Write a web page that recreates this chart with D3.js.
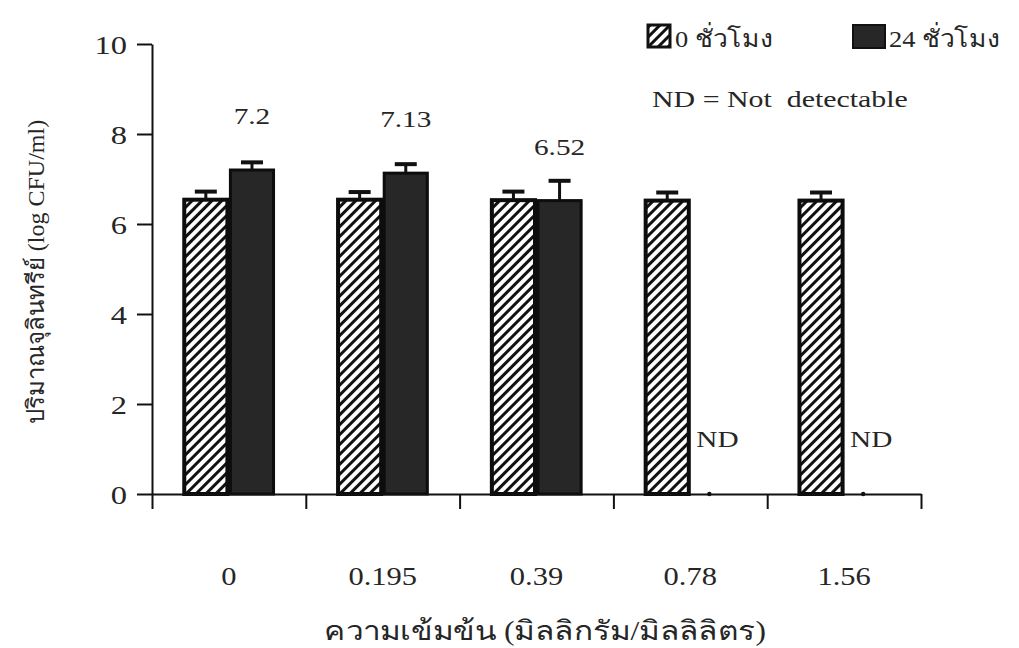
<!DOCTYPE html>
<html>
<head>
<meta charset="utf-8">
<script src="https://cdn.jsdelivr.net/npm/d3@7"></script>
<style>
  html, body { margin: 0; padding: 0; background: #fff; }
  svg { display: block; }
  text { font-family: "Liberation Serif", "DejaVu Serif", "Noto Sans", serif; fill: #262626; }
</style>
</head>
<body>
<svg id="chart" width="1019" height="648"></svg>
<script>
// Concentrations (mg/ml) along the x axis
const concentrations = ["0", "0.195", "0.39", "0.78", "1.56"];
// Series names (incubation time)
const seriesNames = ["0 ชั่วโมง", "24 ชั่วโมง"];
// Mean counts, log CFU/ml (null = not detectable)
const hour0 = [6.54, 6.54, 6.53, 6.52, 6.52];
const hour24 = [7.2, 7.13, 6.52, null, null];
// Standard deviations
const hour0Err = [0.18, 0.17, 0.19, 0.18, 0.18];
const hour24Err = [0.17, 0.2, 0.44, 0, 0];
// Value labels written above the 24 h bars
const hour24Labels = ["7.2", "7.13", "6.52", "ND", "ND"];
const yTicks = [0, 2, 4, 6, 8, 10];

const svg = d3.select("#chart");
const plotLeft = 152, plotRight = 921, plotTop = 44, plotBottom = 494;
const SX = 1.22; // horizontal widening of the serif lettering

function widen(sel, sx) {
  sel.each(function () {
    const t = d3.select(this);
    const x = +t.attr("x") || 0, y = +t.attr("y") || 0;
    t.attr("x", 0).attr("y", 0)
     .attr("transform", `translate(${x},${y}) scale(${sx},1)`);
  });
}

// Hatch pattern for the 0 h bars
const defs = svg.append("defs");
const pat = defs.append("pattern")
  .attr("id", "hatch").attr("patternUnits", "userSpaceOnUse")
  .attr("width", 7).attr("height", 7)
  .attr("patternTransform", "rotate(45)");
pat.append("rect").attr("width", 7).attr("height", 7).attr("fill", "#fff");
pat.append("rect").attr("x", 0).attr("y", 0).attr("width", 3).attr("height", 7).attr("fill", "#111");

const y = d3.scaleLinear().domain([0, 10]).range([plotBottom, plotTop]);
const x0 = d3.scaleBand().domain(concentrations).range([plotLeft, plotRight])
  .paddingInner(0.4).paddingOuter(0.2);
const x1 = d3.scaleBand().domain(seriesNames).range([0, x0.bandwidth()]);
const xEdges = d3.scaleLinear().domain([0, concentrations.length]).range([plotLeft, plotRight]);

const rows = concentrations.map((c, i) => ({
  c,
  bars: [
    { s: seriesNames[0], v: hour0[i], e: hour0Err[i] },
    { s: seriesNames[1], v: hour24[i], e: hour24Err[i] }
  ]
}));

// Bars
const groups = svg.append("g").selectAll("g").data(rows).join("g")
  .attr("transform", d => `translate(${x0(d.c)},0)`);

groups.selectAll("rect").data(d => d.bars.filter(b => b.v != null)).join("rect")
  .attr("x", d => x1(d.s) + 1.5)
  .attr("width", x1.bandwidth() - 3)
  .attr("y", d => y(d.v))
  .attr("height", d => y(0) - y(d.v))
  .attr("fill", d => d.s === seriesNames[0] ? "url(#hatch)" : "#272727")
  .attr("stroke", "#0d0d0d")
  .attr("stroke-width", d => d.s === seriesNames[0] ? 4 : 3);

// Error bars (upper half)
const errs = groups.selectAll("g.err").data(d => d.bars.filter(b => b.v != null)).join("g")
  .attr("class", "err");
errs.append("line")
  .attr("x1", d => x1(d.s) + x1.bandwidth() / 2)
  .attr("x2", d => x1(d.s) + x1.bandwidth() / 2)
  .attr("y1", d => y(d.v)).attr("y2", d => y(d.v + d.e))
  .attr("stroke", "#111").attr("stroke-width", 3);
errs.append("line")
  .attr("x1", d => x1(d.s) + x1.bandwidth() / 2 - 11)
  .attr("x2", d => x1(d.s) + x1.bandwidth() / 2 + 11)
  .attr("y1", d => y(d.v + d.e)).attr("y2", d => y(d.v + d.e))
  .attr("stroke", "#111").attr("stroke-width", 4);

// Not-detectable marks at the baseline
groups.filter((d, i) => hour24[i] == null).append("circle")
  .attr("cx", x1(seriesNames[1]) + x1.bandwidth() / 2 - 4)
  .attr("cy", y(0)).attr("r", 2.2).attr("fill", "#111");

// Value labels
const lbl = svg.append("g").selectAll("text").data(concentrations).join("text")
  .attr("x", (c, i) => hour24[i] == null
    ? x0(c) + x1(seriesNames[1]) + 6
    : x0(c) + x1(seriesNames[1]) + x1.bandwidth() / 2)
  .attr("y", (c, i) => hour24[i] == null ? y(0) - 47 : y(hour24[i]) - 46)
  .attr("text-anchor", (c, i) => hour24[i] == null ? "start" : "middle")
  .attr("font-size", 24)
  .text((c, i) => hour24Labels[i]);
widen(lbl, SX);

// Y axis
const yAxis = svg.append("g").attr("transform", `translate(${plotLeft},0)`)
  .call(d3.axisLeft(y).tickValues(yTicks).tickSize(15).tickSizeOuter(0).tickPadding(10));
yAxis.select(".domain").attr("stroke", "#111").attr("stroke-width", 2);
yAxis.selectAll(".tick line").attr("stroke", "#111").attr("stroke-width", 2);
yAxis.selectAll(".tick text").attr("font-size", 25).attr("fill", "#262626")
  .attr("font-family", "Liberation Serif, serif").attr("dy", "0.36em");
widen(yAxis.selectAll(".tick text"), 1.3);

// X axis with ticks on category edges
const xAxis = svg.append("g").attr("transform", `translate(0,${plotBottom})`)
  .call(d3.axisBottom(xEdges).tickValues(d3.range(concentrations.length + 1))
    .tickFormat("").tickSize(15).tickSizeOuter(0));
xAxis.select(".domain").attr("stroke", "#111").attr("stroke-width", 2);
xAxis.selectAll(".tick line").attr("stroke", "#111").attr("stroke-width", 2);

const xl = svg.append("g").selectAll("text").data(concentrations).join("text")
  .attr("x", c => x0(c) + x0.bandwidth() / 2)
  .attr("y", 585)
  .attr("text-anchor", "middle")
  .attr("font-size", 25)
  .text(c => c);
widen(xl, SX);

// Axis titles
const xt = svg.append("text")
  .attr("x", 545).attr("y", 640)
  .attr("text-anchor", "middle")
  .attr("font-size", 27)
  .text("ความเข้มข้น (มิลลิกรัม/มิลลิลิตร)");
widen(xt, 1.17);

svg.append("text")
  .attr("transform", "translate(44,272) rotate(-90)")
  .attr("text-anchor", "middle")
  .attr("font-size", 24)
  .text("ปริมาณจุลินทรีย์ (log CFU/ml)");

// Legend
const legend = svg.append("g");
legend.append("rect").attr("x", 648).attr("y", 25).attr("width", 22).attr("height", 22)
  .attr("fill", "url(#hatch)").attr("stroke", "#111").attr("stroke-width", 3);
legend.append("rect").attr("x", 853).attr("y", 25).attr("width", 32).attr("height", 23)
  .attr("fill", "#272727").attr("stroke", "#111").attr("stroke-width", 2);
const lt = legend.selectAll("text.s").data(seriesNames).join("text")
  .attr("class", "s")
  .attr("x", (d, i) => i === 0 ? 675 : 889)
  .attr("y", 47)
  .attr("font-size", 24)
  .text(d => d);
widen(lt, 1.1);
const nd = legend.append("text").attr("x", 652).attr("y", 107).attr("font-size", 23)
  .style("white-space", "pre")
  .text("ND = Not  detectable");
widen(nd, 1.3);
</script>
</body>
</html>
